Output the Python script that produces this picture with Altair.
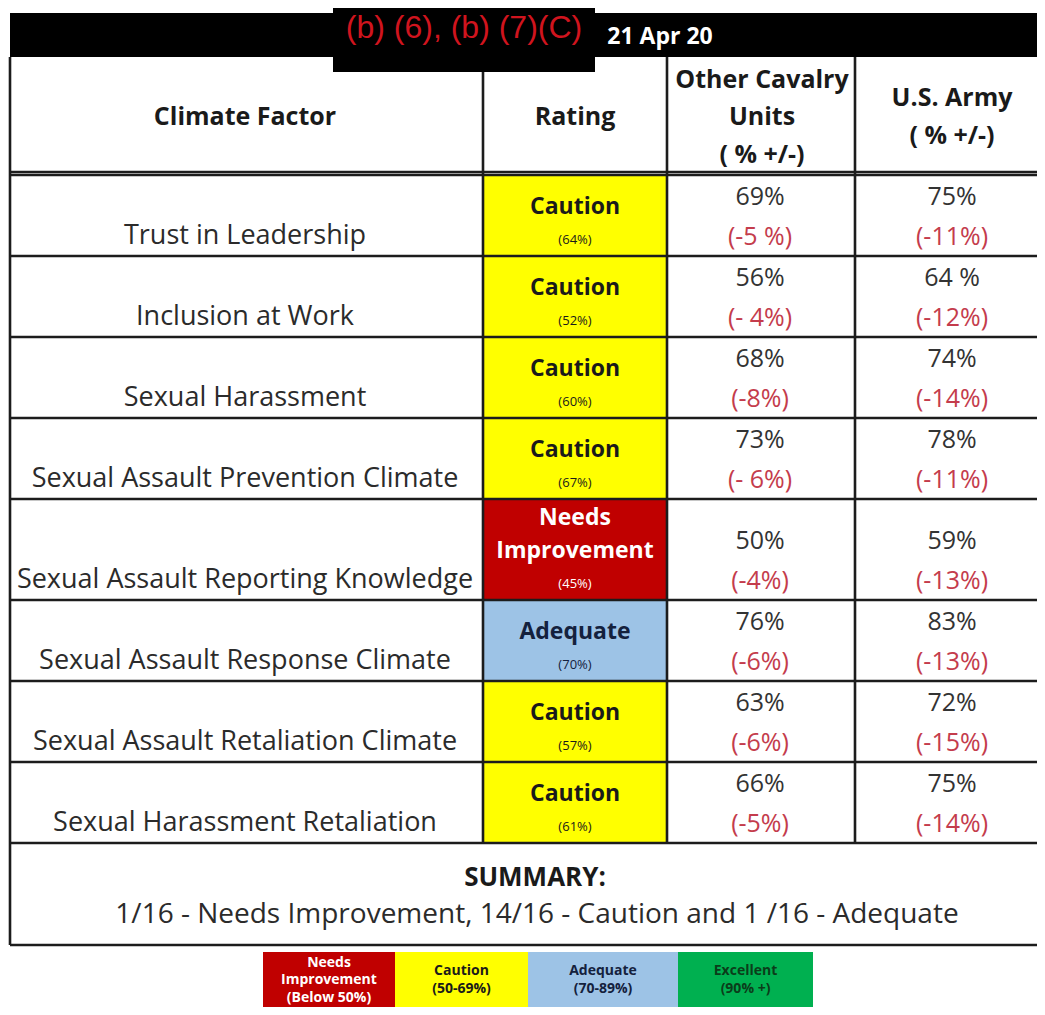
import altair as alt
import pandas as pd

# ---------------- data ----------------
factors = [
    "Trust in Leadership",
    "Inclusion at Work",
    "Sexual Harassment",
    "Sexual Assault Prevention Climate",
    "Sexual Assault Reporting Knowledge",
    "Sexual Assault Response Climate",
    "Sexual Assault Retaliation Climate",
    "Sexual Harassment Retaliation",
]
ratings = ["Caution", "Caution", "Caution", "Caution",
           "Needs Improvement", "Adequate", "Caution", "Caution"]
rating_pct = [64, 52, 60, 67, 45, 70, 57, 61]
cavalry_pct = ["69%", "56%", "68%", "73%", "50%", "76%", "63%", "66%"]
cavalry_delta = ["(-5 %)", "(- 4%)", "(-8%)", "(- 6%)", "(-4%)", "(-6%)", "(-6%)", "(-5%)"]
army_pct = ["75%", "64 %", "74%", "78%", "59%", "83%", "72%", "75%"]
army_delta = ["(-11%)", "(-12%)", "(-14%)", "(-11%)", "(-13%)", "(-13%)", "(-15%)", "(-14%)"]

header_cols = [["Climate Factor"], ["Rating"], ["Other Cavalry", "Units", "( % +/-)"], ["U.S. Army", "( % +/-)"]]
redaction_text = "(b) (6), (b) (7)(C)"
date_text = "21 Apr 20"
summary_title = "SUMMARY:"
summary_text = "1/16 - Needs Improvement,  14/16 - Caution and 1 /16 - Adequate"

legend_names = ["Needs Improvement", "Caution", "Adequate", "Excellent"]
legend_lines = [["Needs", "Improvement", "(Below 50%)"], ["Caution", "(50-69%)"],
                ["Adequate", "(70-89%)"], ["Excellent", "(90% +)"]]

# ---------------- styles / layout ----------------
FILL = {"Caution": "#FFFF00", "Needs Improvement": "#C00000",
        "Adequate": "#9DC3E6", "Excellent": "#00B050"}
INK = {"Caution": "#1a1a1a", "Needs Improvement": "#FFFFFF",
       "Adequate": "#14213D", "Excellent": "#0B3D1A"}
W, H = 1029, 999
X_EDGES = [10, 483, 667, 855, 1045]
ROW_EDGES = [175, 256, 337, 418, 499, 600, 681, 762, 843]
HEADER_TOP = 57
BAR = (10, 1045, 13, 57)
REDACT = (333, 595, 8, 72)
SUMMARY_BOTTOM = 945
LEGEND_X = [263, 395, 528, 678, 813]
LEGEND_Y = (952, 1015)
FONT = "Open Sans"
LINE = "#1c1c1c"
RED_TXT = "#C43C4C"

rects, rules, txt, btxt = [], [], [], []

# header bar and redaction box
rects.append(dict(x=BAR[0], x2=BAR[1], y=BAR[2], y2=BAR[3], c="#000000"))
rects.append(dict(x=REDACT[0], x2=REDACT[1], y=REDACT[2], y2=REDACT[3], c="#000000"))

# rating cells
for i, r in enumerate(ratings):
    rects.append(dict(x=X_EDGES[1] + 1, x2=X_EDGES[2] - 1,
                      y=ROW_EDGES[i] + 1, y2=ROW_EDGES[i + 1] - 1, c=FILL[r]))
# legend cells
for j, name in enumerate(legend_names):
    rects.append(dict(x=LEGEND_X[j], x2=LEGEND_X[j + 1], y=LEGEND_Y[0], y2=LEGEND_Y[1], c=FILL[name]))

# grid lines
for ye in ROW_EDGES:
    rules.append(dict(x=X_EDGES[0], x2=X_EDGES[-1], y=ye, y2=ye))
rules.append(dict(x=X_EDGES[0], x2=X_EDGES[-1], y=ROW_EDGES[0] - 3, y2=ROW_EDGES[0] - 3))
rules.append(dict(x=X_EDGES[0], x2=X_EDGES[0], y=HEADER_TOP, y2=SUMMARY_BOTTOM))
rules.append(dict(x=X_EDGES[1], x2=X_EDGES[1], y=REDACT[3], y2=ROW_EDGES[-1]))
rules.append(dict(x=X_EDGES[2], x2=X_EDGES[2], y=HEADER_TOP, y2=ROW_EDGES[-1]))
rules.append(dict(x=X_EDGES[3], x2=X_EDGES[3], y=HEADER_TOP, y2=ROW_EDGES[-1]))
rules.append(dict(x=X_EDGES[0], x2=X_EDGES[-1], y=SUMMARY_BOTTOM, y2=SUMMARY_BOTTOM))

# header texts
centers = [245, 575, 762, 952]
header_mid = (HEADER_TOP + ROW_EDGES[0]) / 2 + 1
for k, lines in enumerate(header_cols):
    n = len(lines)
    for li, t in enumerate(lines):
        btxt.append(dict(x=centers[k], y=header_mid + (li - (n - 1) / 2) * 37.5,
                         t=t, c="#1a1a1a", s=25))

# body rows
for i in range(len(factors)):
    top, bot = ROW_EDGES[i], ROW_EDGES[i + 1]
    txt.append(dict(x=centers[0], y=bot - 20, t=factors[i], c="#2b2b2b", s=27))
    words = ratings[i].split(" ")
    lines = words + [f"({rating_pct[i]}%)"]
    n = len(lines)
    for li, t in enumerate(lines):
        y = bot - 16 - (n - 1 - li) * 33
        if li == n - 1:
            txt.append(dict(x=centers[1], y=y, t=t, c=INK[ratings[i]], s=13))
        else:
            btxt.append(dict(x=centers[1], y=y, t=t, c=INK[ratings[i]], s=23))
    txt.append(dict(x=760, y=bot - 59, t=cavalry_pct[i], c="#333333", s=25))
    txt.append(dict(x=760, y=bot - 19, t=cavalry_delta[i], c=RED_TXT, s=25))
    txt.append(dict(x=centers[3], y=bot - 59, t=army_pct[i], c="#333333", s=25))
    txt.append(dict(x=centers[3], y=bot - 19, t=army_delta[i], c=RED_TXT, s=25))

# summary
btxt.append(dict(x=535, y=878, t=summary_title, c="#1a1a1a", s=26))
txt.append(dict(x=537, y=915, t=summary_text, c="#2b2b2b", s=28))

# legend texts
for j, lines in enumerate(legend_lines):
    cx = (LEGEND_X[j] + LEGEND_X[j + 1]) / 2
    n = len(lines)
    mid = 980
    for li, t in enumerate(lines):
        btxt.append(dict(x=cx, y=mid + (li - (n - 1) / 2) * 17.5, t=t,
                         c=INK[legend_names[j]], s=14))

# date in header bar
btxt.append(dict(x=660, y=37, t=date_text, c="#FFFFFF", s=23))

xs = alt.Scale(domain=[8, 8 + W], nice=False, zero=False)
ys = alt.Scale(domain=[8, 8 + H], nice=False, zero=False, reverse=True)

rect_layer = alt.Chart(pd.DataFrame(rects)).mark_rect().encode(
    x=alt.X("x:Q", scale=xs, axis=None), x2="x2:Q",
    y=alt.Y("y:Q", scale=ys, axis=None), y2="y2:Q",
    color=alt.Color("c:N", scale=None),
)
rule_layer = alt.Chart(pd.DataFrame(rules)).mark_rule(color=LINE, strokeWidth=2.6).encode(
    x=alt.X("x:Q", scale=xs, axis=None), x2="x2:Q",
    y=alt.Y("y:Q", scale=ys, axis=None), y2="y2:Q",
)


def text_layer(rows, weight, font=FONT):
    return alt.Chart(pd.DataFrame(rows)).mark_text(
        align="center", baseline="middle", font=font, fontWeight=weight
    ).encode(
        x=alt.X("x:Q", scale=xs, axis=None),
        y=alt.Y("y:Q", scale=ys, axis=None),
        text="t:N",
        color=alt.Color("c:N", scale=None),
        size=alt.Size("s:Q", scale=None),
    )


redact_layer = text_layer(
    [dict(x=(REDACT[0] + REDACT[1]) / 2, y=28, t=redaction_text, c="#D0141E", s=32)],
    "normal", font="Liberation Sans")

chart = alt.layer(
    rect_layer, rule_layer, text_layer(txt, "normal"), text_layer(btxt, "bold"), redact_layer
).properties(
    width=W, height=H, padding=0, autosize=alt.AutoSizeParams(type="none"),
    background="#FFFFFF",
).configure_view(stroke=None)

chart.save("out.html", embed_options={"renderer": "svg", "actions": False})
